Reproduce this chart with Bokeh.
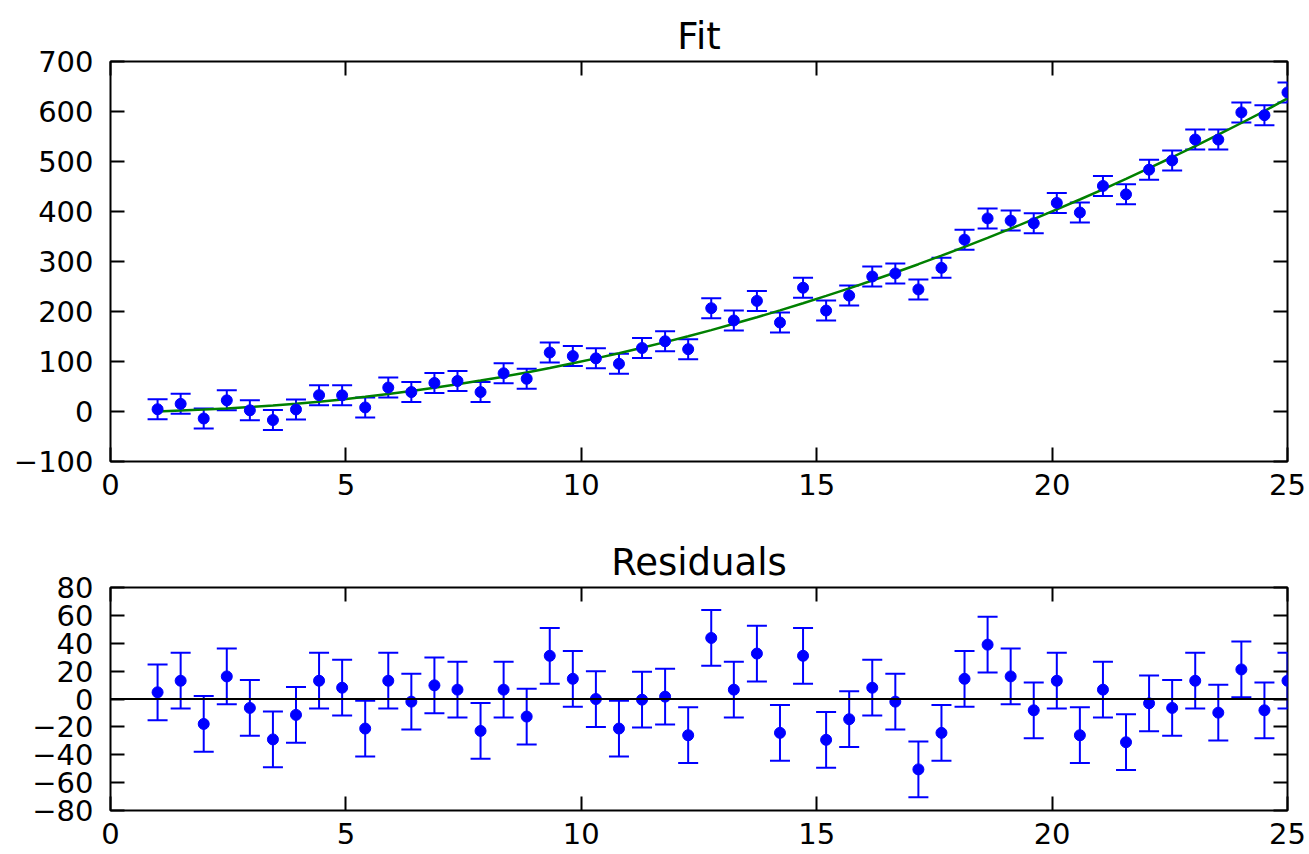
from bokeh.plotting import figure
from bokeh.layouts import column
from bokeh.models import (ColumnDataSource, Whisker, TeeHead, Span, LinearAxis,
                          Range1d, FixedTicker, CustomJSTickFormatter, Title)
from bokeh.embed import file_html
from bokeh.resources import INLINE

# ---------------- data ----------------
x = [1.00, 1.49, 1.98, 2.47, 2.96, 3.45, 3.94, 4.43, 4.92, 5.41,
     5.90, 6.39, 6.88, 7.37, 7.86, 8.35, 8.84, 9.33, 9.82, 10.31,
     10.80, 11.29, 11.78, 12.27, 12.76, 13.24, 13.73, 14.22, 14.71, 15.20,
     15.69, 16.18, 16.67, 17.16, 17.65, 18.14, 18.63, 19.12, 19.61, 20.10,
     20.59, 21.08, 21.57, 22.06, 22.55, 23.04, 23.53, 24.02, 24.51, 25.00]

data_y = [4.5, 15.3, -14.0, 22.3, 2.4, -17.1, 4.1, 32.7, 32.3, 8.1,
          47.9, 38.9, 57.1, 61.0, 38.9, 76.4, 65.5, 118.0, 110.9, 106.3,
          95.4, 127.0, 140.5, 124.6, 206.6, 182.1, 221.2, 178.0, 247.5, 201.9,
          231.8, 270.0, 276.1, 244.1, 287.3, 343.7, 386.2, 381.8, 376.5, 417.2,
          398.0, 451.1, 434.3, 483.6, 502.1, 544.0, 543.9, 598.2, 592.6, 638.1]

fit_y = [0.0, 2.2, 3.9, 6.1, 8.8, 11.9, 15.5, 19.6, 24.2, 29.3,
         34.8, 40.8, 47.3, 54.3, 61.8, 69.7, 78.1, 87.0, 96.4, 106.3,
         116.6, 127.5, 138.8, 150.6, 162.8, 175.4, 188.6, 202.3, 216.5, 231.2,
         246.3, 261.9, 278.0, 294.6, 311.6, 329.2, 347.2, 365.6, 384.6, 404.1,
         424.0, 444.4, 465.3, 486.7, 508.5, 530.9, 553.7, 577.0, 600.7, 626.5]

residuals = [4.8, 13.1, -17.9, 16.2, -6.4, -29.0, -11.4, 13.1, 8.1, -21.2,
             13.1, -1.9, 9.8, 6.7, -22.9, 6.7, -12.6, 31.0, 14.5, 0.0,
             -21.2, -0.5, 1.7, -26.0, 43.8, 6.7, 32.6, -24.3, 31.0, -29.3,
             -14.5, 8.1, -1.9, -50.5, -24.3, 14.5, 39.0, 16.2, -8.1, 13.1,
             -26.0, 6.7, -31.0, -3.1, -6.4, 13.1, -9.8, 21.2, -8.1, 13.1]

yerr = [20.0] * 50

x_ticks = [0, 5, 10, 15, 20, 25]
fit_y_ticks = [-100, 0, 100, 200, 300, 400, 500, 600, 700]
res_y_ticks = [-80, -60, -40, -20, 0, 20, 40, 60, 80]

FONT = "DejaVu Sans"
TICK_SIZE = "29px"
TITLE_SIZE = "37px"
BLUE = "#0000ff"
GREEN = "#008000"

minus_fmt = CustomJSTickFormatter(
    code="return tick < 0 ? '\u2212' + Math.abs(tick).toString() : tick.toString();")


def style_axis(ax, ticks, show_labels):
    ax.ticker = FixedTicker(ticks=ticks)
    ax.axis_line_color = None
    ax.major_tick_in = 14
    ax.major_tick_out = 0
    ax.major_tick_line_color = "black"
    ax.major_tick_line_width = 2
    ax.minor_tick_line_color = None
    if show_labels:
        ax.formatter = minus_fmt
        ax.major_label_text_font = FONT
        ax.major_label_text_font_size = TICK_SIZE
        ax.major_label_text_color = "black"
    else:
        ax.major_label_text_font_size = "0px"
        ax.major_label_text_color = None
        ax.major_label_standoff = 0


def make_panel(title, y_range, y_ticks, frame_h, top, bottom):
    p = figure(frame_width=1177, frame_height=frame_h,
               x_range=Range1d(0, 25), y_range=Range1d(*y_range),
               output_backend="svg", toolbar_location=None,
               min_border_left=110, min_border_right=22,
               min_border_top=top, min_border_bottom=bottom)
    p.title = Title(text=title, align="center", text_font=FONT,
                    text_font_size=TITLE_SIZE, text_font_style="normal",
                    text_color="black", standoff=8)
    p.grid.visible = False
    p.outline_line_color = "black"
    p.outline_line_width = 2
    p.background_fill_color = "white"
    p.border_fill_color = "white"
    style_axis(p.xaxis[0], x_ticks, True)
    style_axis(p.yaxis[0], y_ticks, True)
    p.xaxis[0].major_label_standoff = 12
    p.yaxis[0].major_label_standoff = 17
    top_ax = LinearAxis()
    right_ax = LinearAxis()
    style_axis(top_ax, x_ticks, False)
    style_axis(right_ax, y_ticks, False)
    p.add_layout(top_ax, "above")
    p.add_layout(right_ax, "right")
    return p


def add_errorbars(p, src):
    p.add_layout(Whisker(source=src, base="x", lower="lower", upper="upper",
                         dimension="height", line_color=BLUE, line_width=2,
                         upper_head=TeeHead(size=20, line_color=BLUE, line_width=2),
                         lower_head=TeeHead(size=20, line_color=BLUE, line_width=2)))


# ---------------- Fit panel ----------------
lower_fit = [d - e for d, e in zip(data_y, yerr)]
upper_fit = [d + e for d, e in zip(data_y, yerr)]
src_fit = ColumnDataSource(dict(x=x, y=data_y, fit=fit_y, lower=lower_fit, upper=upper_fit))

p1 = make_panel("Fit", (-100, 700), fit_y_ticks, 400, 61, 59)
add_errorbars(p1, src_fit)
p1.line("x", "fit", source=src_fit, line_color=GREEN, line_width=2.5)
p1.scatter("x", "y", source=src_fit, size=11, fill_color=BLUE, line_color=BLUE)

# ---------------- Residuals panel ----------------
lower_res = [r - e for r, e in zip(residuals, yerr)]
upper_res = [r + e for r, e in zip(residuals, yerr)]
src_res = ColumnDataSource(dict(x=x, y=residuals, lower=lower_res, upper=upper_res))

p2 = make_panel("Residuals", (-80, 80), res_y_ticks, 223, 67, 44)
p2.add_layout(Span(location=0, dimension="width", line_color="black", line_width=2))
add_errorbars(p2, src_res)
p2.scatter("x", "y", source=src_res, size=11, fill_color=BLUE, line_color=BLUE)

layout = column(p1, p2, spacing=0)
open("out.html", "w").write(file_html(layout, INLINE))
